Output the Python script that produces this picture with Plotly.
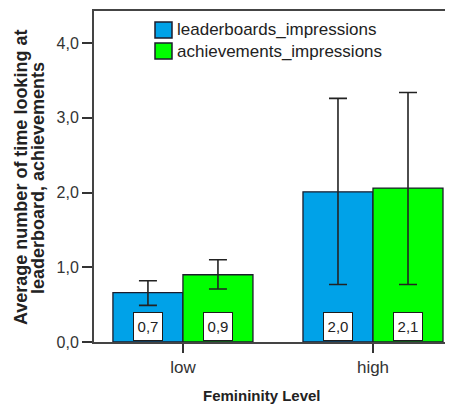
import plotly.graph_objects as go

categories = ["low", "high"]
series_names = ["leaderboards_impressions", "achievements_impressions"]
leader_vals = [0.66, 2.01]
achieve_vals = [0.90, 2.06]
leader_err_hi = [0.82, 3.26]
leader_err_lo = [0.49, 0.77]
achieve_err_hi = [1.10, 3.34]
achieve_err_lo = [0.71, 0.77]
y_ticks = [0, 1, 2, 3, 4]
colors = ["#00a2e8", "#00ff00"]

FONT = "Liberation Sans, Arial, sans-serif"
x_pos = list(range(len(categories)))
fig = go.Figure()
offsets = [-0.1842, 0.1842]
for name, vals, hi, lo, col, off in zip(series_names, [leader_vals, achieve_vals],
                                          [leader_err_hi, achieve_err_hi],
                                          [leader_err_lo, achieve_err_lo], colors, offsets):
    xs = [x + off for x in x_pos]
    fig.add_trace(go.Bar(
        x=xs, y=vals, name=name, width=0.3684, showlegend=False,
        marker=dict(color=col, line=dict(color="#1c1c2c", width=1.3)),
        error_y=dict(type="data", symmetric=False,
                     array=[h - v for h, v in zip(hi, vals)],
                     arrayminus=[v - l for l, v in zip(lo, vals)],
                     color="#222222", thickness=1.6, width=9),
    ))
    for x, v in zip(xs, vals):
        fig.add_annotation(x=x, y=0, yref="y", xref="x", yanchor="bottom",
                           text=f"{v:.1f}".replace(".", ","), showarrow=False,
                           font=dict(family=FONT, size=15, color="#222"),
                           bgcolor="white", bordercolor="#1c1c1c", borderwidth=1,
                           borderpad=0, width=28, height=27, yshift=1)

# legend (manual, to match the large square swatches)
PW, PH, L, B = 359.0, 331.0, 86.0, 334.0
def px(fx):
    return (fx - L) / PW
def py(fy):
    return (B - fy) / PH
for i, (name, col) in enumerate(zip(series_names, colors)):
    top = 14 + i * 21
    fig.add_shape(type="rect", xref="paper", yref="paper",
                  x0=px(147), x1=px(164), y0=py(top + 16), y1=py(top),
                  fillcolor=col, line=dict(color="#1c1c2c", width=1.5))
    fig.add_annotation(x=px(167), y=py(top + 8), xref="paper", yref="paper",
                       xanchor="left", yanchor="middle", text=name, showarrow=False,
                       font=dict(family=FONT, size=17, color="#222"))

fig.add_annotation(x=px(13), y=py(170), xref="paper", yref="paper", textangle=-90,
                   xanchor="center", yanchor="middle",
                   text="<b>Average number of time looking at</b>",
                   showarrow=False, font=dict(family=FONT, size=18, color="#222"))
fig.add_annotation(x=px(30), y=py(170), xref="paper", yref="paper", textangle=-90,
                   xanchor="center", yanchor="middle",
                   text="<b>leaderboard, achievements</b>",
                   showarrow=False, font=dict(family=FONT, size=18, color="#222"))
fig.add_annotation(x=px(254), y=py(387), xref="paper", yref="paper",
                   xanchor="center", yanchor="middle",
                   text="<b>Femininity Level</b>", showarrow=False,
                   font=dict(family=FONT, size=15, color="#222"))

fig.update_layout(
    width=445, height=399,
    margin=dict(l=86, r=0, t=3, b=65),
    paper_bgcolor="white", plot_bgcolor="white",
    barmode="overlay",
    separators=",.",
    showlegend=False,
    xaxis=dict(range=[-0.468, 1.421], tickvals=x_pos, ticktext=categories,
               showline=True, linecolor="#444", linewidth=2, mirror=True,
               ticks="outside", ticklen=9, tickcolor="#333", tickwidth=1.5,
               showgrid=False, zeroline=False,
               tickfont=dict(family=FONT, size=17, color="#333")),
    yaxis=dict(range=[0, 4.43], tickvals=y_ticks, tickformat=".1f",
               showline=True, linecolor="#444", linewidth=2,
               ticks="outside", ticklen=10, tickcolor="#333", tickwidth=1.5,
               showgrid=False, zeroline=False,
               tickfont=dict(family=FONT, size=16, color="#333")),
)

fig.write_html("out.html")
